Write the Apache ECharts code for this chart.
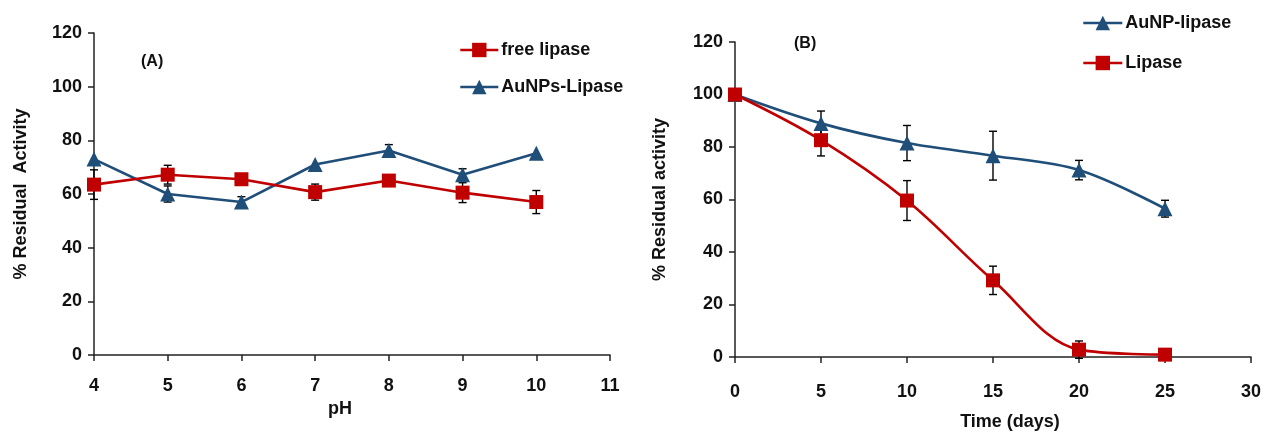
<!DOCTYPE html>
<html>
<head>
<meta charset="utf-8">
<script src="https://cdn.jsdelivr.net/npm/echarts@6/dist/echarts.min.js"></script>
<style>
html,body{margin:0;padding:0;background:#fff;}
#c{width:1265px;height:440px;}
</style>
</head>
<body>
<div id="c"></div>
<script>
// ---- Panel A data (pH) ----
const phValues = [4, 5, 6, 7, 8, 9, 10];
const freeLipaseA = [63.5, 67.2, 65.5, 60.7, 65.0, 60.5, 57.0];
const freeLipaseAErr = [5.5, 3.5, 0, 3.0, 0, 3.7, 4.3];
const auNPsLipaseA = [73.0, 60.0, 57.0, 71.0, 76.2, 67.2, 75.2];
const auNPsLipaseAErr = [0, 3.0, 2.0, 0, 2.2, 2.2, 0];
const phTicks = {min: 4, max: 11, interval: 1};

// ---- Panel B data (time) ----
const days = [0, 5, 10, 15, 20, 25];
const auNPLipaseB = [100, 89.0, 81.5, 76.7, 71.2, 56.5];
const auNPLipaseBErr = [0, 4.7, 6.7, 9.3, 3.7, 3.2];
const lipaseB = [100, 82.6, 59.6, 29.2, 2.8, 0.9];
const lipaseBErr = [0, 6.0, 7.6, 5.4, 3.3, 0];
const dayTicks = {min: 0, max: 30, interval: 5};
const yTicks = {min: 0, max: 120, interval: 20};

const RED = '#C00000';
const BLUE = '#1F4E79';
const FONT = 'Liberation Sans';

function pairs(xs, ys) { return xs.map((x, i) => [x, ys[i]]); }

function errSeries(xs, ys, es, idx) {
  return {
    type: 'custom',
    xAxisIndex: idx, yAxisIndex: idx,
    z: 1,
    silent: true,
    data: xs.map((x, i) => [x, ys[i], es[i]]).filter(d => d[2] > 0),
    renderItem: function (params, api) {
      const x = api.value(0), y = api.value(1), e = api.value(2);
      const t = api.coord([x, y + e]);
      const b = api.coord([x, y - e]);
      const w = 4;
      const st = {stroke: '#000', lineWidth: 1.4};
      return {
        type: 'group',
        children: [
          {type: 'line', shape: {x1: t[0], y1: t[1], x2: b[0], y2: b[1]}, style: st},
          {type: 'line', shape: {x1: t[0] - w, y1: t[1], x2: t[0] + w, y2: t[1]}, style: st},
          {type: 'line', shape: {x1: b[0] - w, y1: b[1], x2: b[0] + w, y2: b[1]}, style: st}
        ]
      };
    }
  };
}

function lineSeries(name, xs, ys, idx, color, symbol, size, smooth) {
  return {
    name: name, type: 'line', xAxisIndex: idx, yAxisIndex: idx,
    data: pairs(xs, ys), smooth: smooth,
    symbol: symbol, symbolSize: size, showSymbol: true,
    lineStyle: {color: color, width: 2.6},
    itemStyle: {color: color, borderWidth: 0},
    z: 3
  };
}

const axisLine = {show: true, lineStyle: {color: '#222', width: 1.5}};
const axisTick = {show: true, inside: false, length: 6, lineStyle: {color: '#222', width: 1.5}};
const labelStyle = {color: '#111', fontFamily: FONT, fontWeight: 'bold', fontSize: 18};
const nameStyle = {color: '#111', fontFamily: FONT, fontWeight: 'bold', fontSize: 18};

function xAxis(idx, t, name, gap, pad, margin) {
  return {
    type: 'value', gridIndex: idx, min: t.min, max: t.max, interval: t.interval,
    axisLine: axisLine, axisTick: axisTick, splitLine: {show: false},
    axisLabel: Object.assign({margin: margin}, labelStyle),
    name: name, nameLocation: 'middle', nameGap: gap,
    nameTextStyle: Object.assign({padding: pad}, nameStyle)
  };
}
function yAxis(idx, name, gap) {
  return {
    type: 'value', gridIndex: idx, min: yTicks.min, max: yTicks.max, interval: yTicks.interval,
    axisLine: axisLine, axisTick: axisTick, splitLine: {show: false},
    axisLabel: Object.assign({margin: 12}, labelStyle),
    name: name, nameLocation: 'middle', nameGap: gap, nameRotate: 90,
    nameTextStyle: nameStyle
  };
}

const legendText = {fontFamily: FONT, fontWeight: 'bold', fontSize: 18, color: '#111', padding: [0, 0, 0, -2]};

const chart = echarts.init(document.getElementById('c'), null, {renderer: 'canvas'});
chart.setOption({
  animation: false,
  backgroundColor: '#fff',
  title: [
    {text: '(A)', left: 136, top: 49, textStyle: {fontFamily: FONT, fontWeight: 'bold', fontSize: 16, color: '#111'}},
    {text: '(B)', left: 789, top: 31, textStyle: {fontFamily: FONT, fontWeight: 'bold', fontSize: 16, color: '#111'}}
  ],
  grid: [
    {left: 94, top: 33, width: 516, height: 322},
    {left: 735, top: 42, width: 516, height: 315}
  ],
  legend: [
    {data: ['free lipase', 'AuNPs-Lipase'], orient: 'vertical', left: 454, top: 36,
     itemWidth: 38, itemHeight: 18, itemGap: 19,
     lineStyle: {width: 2.6},
     textStyle: legendText},
    {data: ['AuNP-lipase', 'Lipase'], orient: 'vertical', left: 1077, top: 9,
     itemWidth: 39, itemHeight: 18, itemGap: 22,
     lineStyle: {width: 2.6},
     textStyle: legendText}
  ],
  xAxis: [
    xAxis(0, phTicks, 'pH', 44, [0, 24, 0, 0], 22),
    xAxis(1, dayTicks, 'Time (days)', 56, [0, 0, 0, 34], 26)
  ],
  yAxis: [
    yAxis(0, '% Residual  Activity', 64),
    yAxis(1, '% Residual activity', 66)
  ],
  series: [
    errSeries(phValues, freeLipaseA, freeLipaseAErr, 0),
    errSeries(phValues, auNPsLipaseA, auNPsLipaseAErr, 0),
    lineSeries('AuNPs-Lipase', phValues, auNPsLipaseA, 0, BLUE, 'triangle', 15, false),
    lineSeries('free lipase', phValues, freeLipaseA, 0, RED, 'rect', 14, false),
    errSeries(days, auNPLipaseB, auNPLipaseBErr, 1),
    errSeries(days, lipaseB, lipaseBErr, 1),
    lineSeries('AuNP-lipase', days, auNPLipaseB, 1, BLUE, 'triangle', 15, 0.35),
    lineSeries('Lipase', days, lipaseB, 1, RED, 'rect', 14, 0.35)
  ]
});
</script>
</body>
</html>
